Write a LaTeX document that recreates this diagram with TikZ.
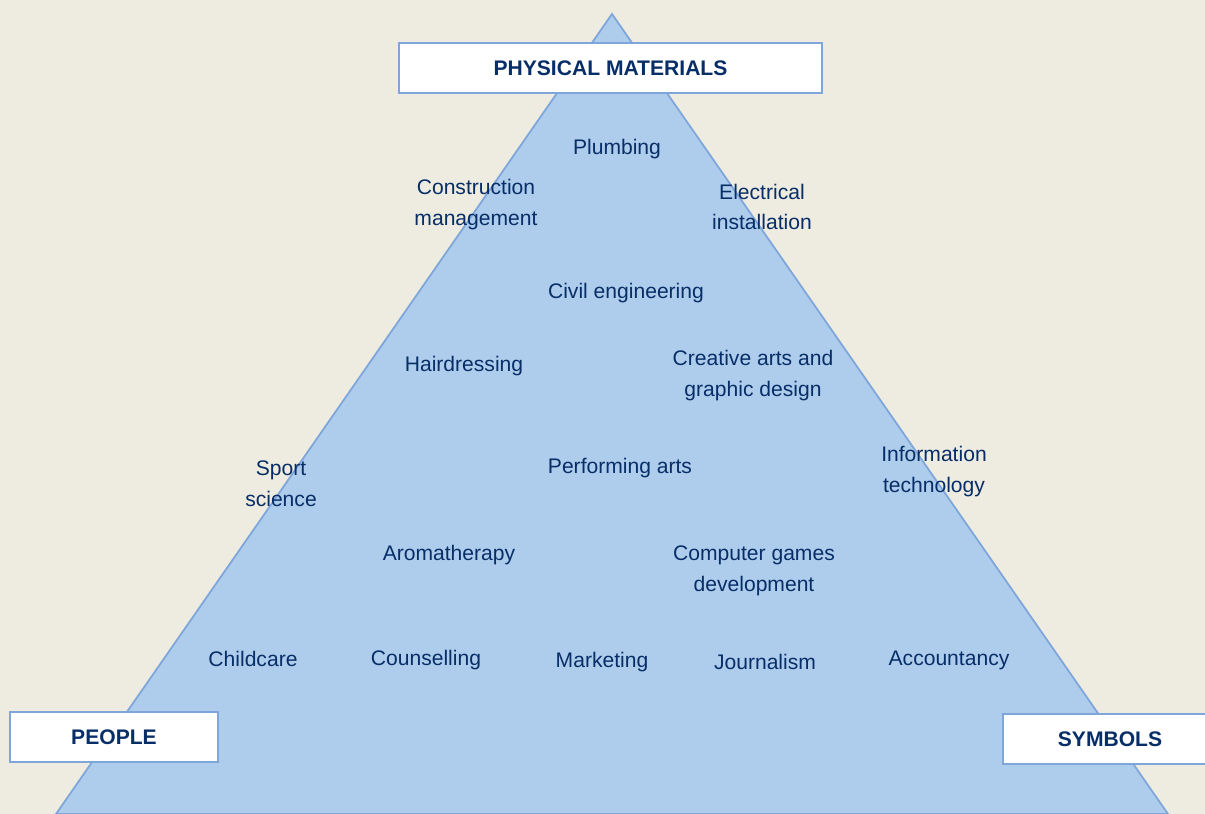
\documentclass[tikz,border=0pt]{standalone}
\usepackage{fontspec}
\setmainfont{Liberation Sans}
\usepackage{xcolor}
\definecolor{paper}{RGB}{238, 235, 224}
\definecolor{pyramid}{RGB}{174, 205, 236}
\definecolor{edge}{RGB}{126, 166, 218}
\definecolor{navy}{RGB}{8, 46, 104}

\begin{document}
\begin{tikzpicture}[x=0.02cm, y=-0.02cm,
        item/.style={draw=none, text=navy, align=center, font=\fontsize{12}{17.6}\selectfont},
        catbox/.style={draw=edge, line width=0.8pt, fill=white, text=navy, font=\bfseries\fontsize{12}{14}\selectfont, minimum height=1cm}]
        % 背景
        \useasboundingbox (0,0) rectangle (1205,814);
        \fill[paper] (0,0) rectangle (1205,814);
        % ピラミッド
        \draw[edge, line width=1pt, fill=pyramid] (612,14) -- (1168,814) -- (56,814) -- cycle;
        % 三つの頂点のラベル
        \node[catbox, minimum width=8.46cm] (phys) at (610.5,68) {PHYSICAL MATERIALS};
        \node[catbox, minimum width=4.16cm] (people) at (114,737) {PEOPLE};
        \node[catbox, minimum width=4.28cm] (symbols) at (1110,739) {SYMBOLS};
        % 上段
        \node[item] (plumbing) at (617,149) {Plumbing};
        \node[item] (construction) at (476,204.5) {Construction\\management};
        \node[item] (electrical) at (762,207) {Electrical\\installation};
        \node[item] (civil) at (626,293) {Civil engineering};
        % 中段
        \node[item] (hair) at (464,366) {Hairdressing};
        \node[item] (creative) at (753,375.5) {Creative arts and\\graphic design};
        \node[item] (sport) at (281,484) {Sport\\science};
        \node[item] (performing) at (620,468) {Performing arts};
        \node[item] (infotech) at (934,471.5) {Information\\technology};
        \node[item] (aroma) at (449,555) {Aromatherapy};
        \node[item] (games) at (754,571) {Computer games\\development};
        % 下段
        \node[item] (childcare) at (253,659) {Childcare};
        \node[item] (counsel) at (426,660) {Counselling};
        \node[item] (marketing) at (602,662) {Marketing};
        \node[item] (journalism) at (765,662) {Journalism};
        \node[item] (accountancy) at (949,660) {Accountancy};
    \end{tikzpicture}
\end{document}
